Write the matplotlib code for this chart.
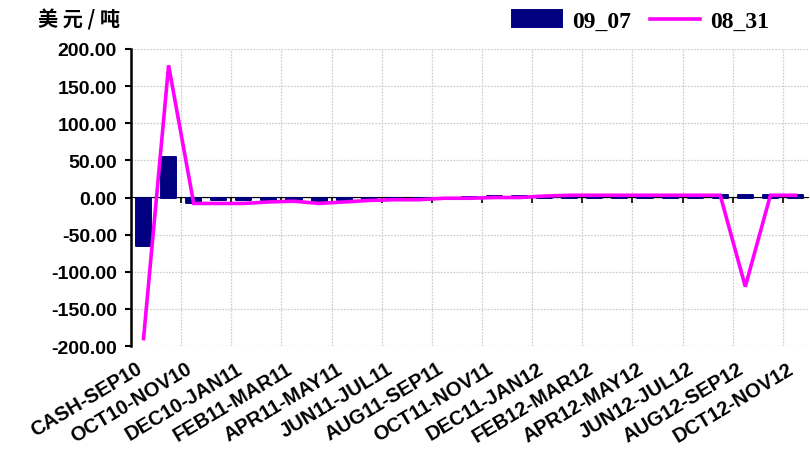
import matplotlib
matplotlib.use("Agg")
import matplotlib.pyplot as plt
import matplotlib.transforms as mtransforms
import numpy as np

categories = ["CASH-SEP10", "SEP10-OCT10", "OCT10-NOV10", "NOV10-DEC10", "DEC10-JAN11",
              "JAN11-FEB11", "FEB11-MAR11", "MAR11-APR11", "APR11-MAY11", "MAY11-JUN11",
              "JUN11-JUL11", "JUL11-AUG11", "AUG11-SEP11", "SEP11-OCT11", "OCT11-NOV11",
              "NOV11-DEC11", "DEC11-JAN12", "JAN12-FEB12", "FEB12-MAR12", "MAR12-APR12",
              "APR12-MAY12", "MAY12-JUN12", "JUN12-JUL12", "JUL12-AUG12", "AUG12-SEP12",
              "SEP12-OCT12", "DCT12-NOV12"]
labels_shown = categories[::2]

series_0907 = [-65, 55, -8, -4, -4, -4, -4, -5, -4, -4, -4, -2, 0, 1, 2,
               2, 2, 2, 2, 2, 3, 3, 3, 3, 3, 3, 3]
series_0831 = [-190, 178, -8, -8, -8, -6, -5, -8, -6, -4, -3, -3, -1, -1, 0,
               0, 2, 3, 3, 3, 3, 3, 3, 3, -120, 3, 3]

yticks = [-200, -150, -100, -50, 0, 50, 100, 150, 200]

plt.rcParams['font.family'] = ['Liberation Sans', 'DejaVu Sans']

fig = plt.figure(figsize=(8.1, 4.52), dpi=100)
ax = fig.add_axes([131/810, 1-347/452, (808-131)/810, (347-50)/452])

x = np.arange(len(categories))
bars = ax.bar(x, series_0907, width=0.6, color='#000080', edgecolor='#000080',
              linewidth=1.4, joinstyle='round', zorder=3, label='09_07')
line, = ax.plot(x, series_0831, color='#FF00FF', linewidth=2.6, zorder=4, label='08_31',
                solid_joinstyle='miter')

ax.set_xlim(-0.5, len(categories) - 0.5)
ax.set_ylim(-200, 200)
ax.set_yticks(yticks)
ax.set_yticklabels([f"{v:.2f}" for v in yticks], fontsize=14, fontweight='bold')

ax.set_xticks(x[::2])
ax.set_xticklabels(labels_shown, rotation=31, ha='right', rotation_mode='anchor',
                   fontsize=14.5, fontweight='bold')
ax.tick_params(axis='x', length=0, pad=9)
offset = mtransforms.ScaledTranslation(-8/100, 0, fig.dpi_scale_trans)
for lab in ax.get_xticklabels():
    lab.set_transform(lab.get_transform() + offset)
ax.tick_params(axis='y', direction='out', length=4, width=1.5, color='black', pad=6)

# grid
ax.set_xticks(np.arange(1.5, len(categories) - 1, 2), minor=True)
ax.tick_params(axis='x', which='minor', length=0)
ax.grid(True, which='minor', axis='x', color='#d0d0d0', linestyle=(0, (1.5, 1)), linewidth=0.9, zorder=0)
ax.grid(True, which='major', axis='y', color='#d0d0d0', linestyle=(0, (1.5, 1)), linewidth=0.9, zorder=0)

for s in ['top', 'right', 'bottom']:
    ax.spines[s].set_visible(False)
ax.spines['left'].set_linewidth(1.8)

# zero axis with inward ticks
sec = ax.secondary_xaxis(0.5)
sec.set_xticks(np.arange(1.5, len(categories) - 1, 2))
sec.set_xticklabels([])
sec.tick_params(direction='in', length=4, width=1.2, color='black')
sec.spines['bottom'].set_linewidth(1.5)
sec.set_zorder(2.5)

fig.text(38/810, 1-20/452, "美 元 / 吨", fontsize=14.5, fontweight='bold',
         family=['Noto Sans CJK SC', 'DejaVu Sans'], va='center', ha='left')

leg = ax.legend([bars, line], ['09_07', '08_31'], loc='center right',
                bbox_to_anchor=(786/810, 1-22/452),
                bbox_transform=fig.transFigure, ncol=2, frameon=False,
                prop={'family': 'Liberation Serif', 'weight': 'bold', 'size': 17},
                handlelength=2.1, handleheight=0.75, columnspacing=0.8, handletextpad=0.45,
                borderpad=0.2)

fig.savefig("out.png", dpi=100)
